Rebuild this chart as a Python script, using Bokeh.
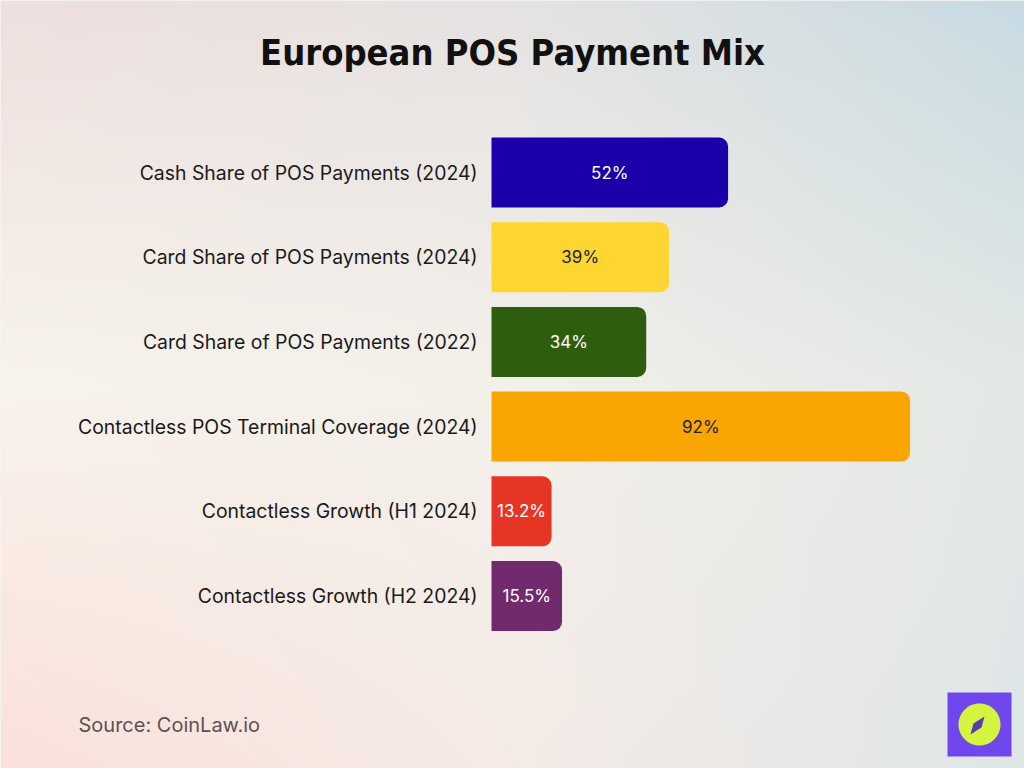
import numpy as np
from bokeh.plotting import figure
from bokeh.models import ColumnDataSource, Range1d, Label, BoxAnnotation, PolyAnnotation
from bokeh.core.properties import value
from bokeh.embed import file_html
from bokeh.resources import INLINE

# ---- data ----
categories = [
    "Cash Share of POS Payments (2024)",
    "Card Share of POS Payments (2024)",
    "Card Share of POS Payments (2022)",
    "Contactless POS Terminal Coverage (2024)",
    "Contactless Growth (H1 2024)",
    "Contactless Growth (H2 2024)",
]
values = [52, 39, 34, 92, 13.2, 15.5]
value_labels = ["52%", "39%", "34%", "92%", "13.2%", "15.5%"]
bar_colors = ["#1b00a9", "#fed531", "#2f5d10", "#faa602", "#e63425", "#712a6e"]
label_colors = ["#ffffff", "#222222", "#ffffff", "#222222", "#ffffff", "#ffffff"]

W, H = 1024, 768
PX = 4.55          # px per percent
ZERO = 491         # canvas x of the bar base
UNIT = 84.7        # px per category row
FIRST = 172        # canvas y (from top) of first row centre

n = len(categories)
ypos = [n - 1 - i for i in range(n)]
x_start, x_end = -ZERO / PX, (W - ZERO) / PX
y_end = (n - 1) + FIRST / UNIT
y_start = y_end - H / UNIT

p = figure(width=W, height=H, output_backend="svg", toolbar_location=None,
           x_range=Range1d(x_start, x_end), y_range=Range1d(y_start, y_end),
           x_axis_type=None, y_axis_type=None, min_border=0)
p.outline_line_color = None
p.border_fill_color = None
p.background_fill_color = "#f3efe9"
p.grid.visible = False

# ---- background gradient ----
ctrl = np.array([
    [[0xee, 0xe0, 0xde], [0xe6, 0xe3, 0xe2], [0xc8, 0xdb, 0xe2]],   # top row
    [[0xf8, 0xf3, 0xec], [0xf3, 0xf0, 0xea], [0xe3, 0xe8, 0xe6]],   # middle
    [[0xfb, 0xe1, 0xdb], [0xf5, 0xeb, 0xe6], [0xdf, 0xe6, 0xe8]],   # bottom
], dtype=float)
GW, GH = 128, 96
gx = np.linspace(0, 2, GW)
gy = np.linspace(0, 2, GH)  # 0 = top
img_rgb = np.zeros((GH, GW, 3))
for r, yy in enumerate(gy):
    i0 = min(int(yy), 1); fy = yy - i0
    for c, xx in enumerate(gx):
        j0 = min(int(xx), 1); fx = xx - j0
        top = ctrl[i0, j0] * (1 - fx) + ctrl[i0, j0 + 1] * fx
        bot = ctrl[i0 + 1, j0] * (1 - fx) + ctrl[i0 + 1, j0 + 1] * fx
        img_rgb[r, c] = top * (1 - fy) + bot * fy
img_rgb = img_rgb[::-1]  # row 0 at bottom
img = np.empty((GH, GW), dtype=np.uint32)
view = img.view(dtype=np.uint8).reshape((GH, GW, 4))
view[:, :, :3] = img_rgb.astype(np.uint8)
view[:, :, 3] = 255
p.image_rgba(image=[img], x=x_start, y=y_start, dw=x_end - x_start, dh=y_end - y_start)

# ---- bars ----
src = ColumnDataSource(dict(cat=categories, y=ypos, v=values, vl=value_labels,
                            color=bar_colors, lc=label_colors,
                            mid=[v / 2 for v in values], zero=[0] * n))
p.hbar(y="y", left=0, right="v", height=0.826, fill_color="color", line_color=None,
       border_radius=(0, 9, 9, 0), source=src)

FONT = value("Inter")
p.text(x="mid", y="y", text="vl", text_color="lc", text_align="center",
       text_baseline="middle", text_font=FONT, text_font_size="17px", source=src)
p.text(x="zero", y="y", text="cat", x_offset=-14, text_color="#1a1a1a", text_align="right",
       text_baseline="middle", text_font=FONT, text_font_size="19.4px", source=src)

# ---- title & source ----
p.add_layout(Label(x=512, y=H - 52, x_units="screen", y_units="screen",
                   text="European POS Payment Mix", text_align="center", text_baseline="middle",
                   text_font="'DejaVu Sans Condensed', Roboto", text_font_style="bold",
                   text_font_size="36px", text_color="#111111"))
p.add_layout(Label(x=78, y=H - 724, x_units="screen", y_units="screen",
                   text="Source: CoinLaw.io", text_align="left", text_baseline="middle",
                   text_font="Inter", text_font_size="20px", text_color="#5a5252"))

# ---- logo ----
p.add_layout(BoxAnnotation(left=947, right=1011, bottom=H - 756, top=H - 692,
                           left_units="screen", right_units="screen",
                           bottom_units="screen", top_units="screen",
                           fill_color="#6f47ec", fill_alpha=1, line_color=None))
cx, cy, rr = 979, H - 724, 21
ang = np.linspace(0, 2 * np.pi, 60, endpoint=False)
p.add_layout(PolyAnnotation(xs=list(cx + rr * np.cos(ang)), ys=list(cy + rr * np.sin(ang)),
                            xs_units="screen", ys_units="screen",
                            fill_color="#d4f43f", fill_alpha=1, line_color=None))
dx, dy = 977, H - 725
p.add_layout(PolyAnnotation(xs=[dx - 7, dx - 4, dx + 7, dx + 4],
                            ys=[dy - 9, dy + 2, dy + 9, dy - 2],
                            xs_units="screen", ys_units="screen",
                            fill_color="#5b3ab8", fill_alpha=1, line_color=None))

open("out.html", "w").write(file_html(p, INLINE))
